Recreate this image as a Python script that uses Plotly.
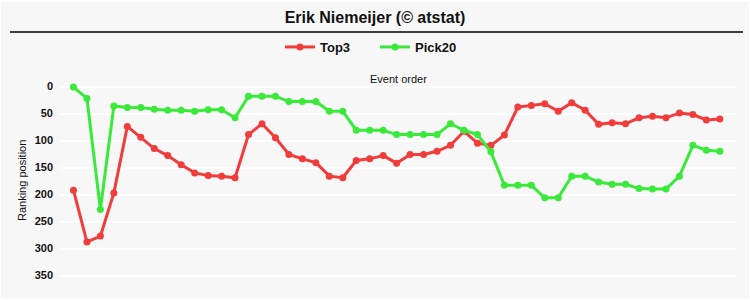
import plotly.graph_objects as go

title_text = "Erik Niemeijer (© atstat)"
series_names = ["Top3", "Pick20"]
events = list(range(49))
top3 = [192, 288, 277, 197, 74, 94, 115, 128, 145, 160, 165, 166, 169,
        89, 69, 95, 126, 134, 141, 166, 169, 137, 134, 128, 142, 126, 126, 120, 109, 83, 105, 109,
        90, 38, 35, 32, 46, 30, 44, 70, 67, 69, 58, 55, 58, 49, 52, 62, 60]
pick20 = [1, 22, 228, 36, 39, 39, 42, 44, 44, 46, 43, 43, 58,
          18, 18, 18, 28, 28, 28, 46, 46, 81, 81, 81, 89, 89, 89, 89, 69, 81, 89, 121,
          183, 183, 183, 206, 206, 166, 166, 177, 181, 181, 189, 190, 190, 166, 109, 118, 120]
y_ticks = [0, 50, 100, 150, 200, 250, 300, 350]
colors = ["#f23c3c", "#3aea3a"]

W, H = 750, 300
L, R, T, B = 60, 14, 72.5, 11
pw, ph = W - L - R, H - T - B

def px_x(x):
    return (x - L) / pw

def px_y(y):
    return (H - B - y) / ph

fig = go.Figure()
for name, vals, c in zip(series_names, [top3, pick20], colors):
    fig.add_trace(go.Scatter(
        x=events, y=vals, name=name, mode="lines+markers",
        line=dict(color=c, width=3),
        marker=dict(color=c, size=7),
    ))

fig.update_layout(
    width=W, height=H,
    margin=dict(l=L, r=R, t=T, b=B),
    paper_bgcolor="white",
    plot_bgcolor="rgba(0,0,0,0)",
    font=dict(family="Liberation Sans, Arial, sans-serif", color="#111"),
    title=dict(text="<b>" + title_text + "</b>", x=0.5, xref="container", xanchor="center",
               y=1 - 17 / H, yref="container", yanchor="middle",
               font=dict(size=16, color="#111")),
    legend=dict(orientation="h", x=0.5, xref="container", xanchor="center",
                y=1 - 47 / H, yref="container", yanchor="middle",
                font=dict(size=13, color="#111", weight="bold"), bgcolor="rgba(0,0,0,0)",
                itemwidth=30, tracegroupgap=0, entrywidth=50, entrywidthmode="pixels"),
    showlegend=True,
    xaxis=dict(range=[-1, 49.2], showgrid=False, zeroline=False, showticklabels=False,
               ticks="", showline=False, fixedrange=True),
    yaxis=dict(range=[375, -25], tickvals=y_ticks, showgrid=True, gridcolor="#ffffff",
               gridwidth=1.5, zeroline=False, showline=False, ticks="",
               tickfont=dict(size=11, color="#111", family="Liberation Sans, Arial, sans-serif", weight="bold"),
               ticklabelstandoff=6),
    shapes=[
        dict(type="path", xref="paper", yref="paper",
             path=("M {x0},{y0} L {x1},{y0} L {x1},{y1} L {x0},{y1} Z").format(
                 x0=px_x(1), x1=px_x(W - 1), y0=px_y(1), y1=px_y(H - 1)),
             fillcolor="#f7f7f7", line=dict(width=0), layer="below"),
        dict(type="line", xref="paper", yref="paper",
             x0=px_x(10), x1=px_x(743), y0=px_y(31.5), y1=px_y(31.5),
             line=dict(color="#000000", width=1.5)),
    ],
    annotations=[
        dict(text="Event order", xref="paper", yref="paper", x=0.5, y=px_y(79),
             xanchor="center", yanchor="middle", showarrow=False,
             font=dict(size=11, color="#111")),
        dict(text="Ranking position", xref="paper", yref="paper", x=px_x(22), y=0.5,
             xanchor="center", yanchor="middle", showarrow=False, textangle=-90,
             font=dict(size=11, color="#111")),
    ],
)

fig.write_html("out.html")
